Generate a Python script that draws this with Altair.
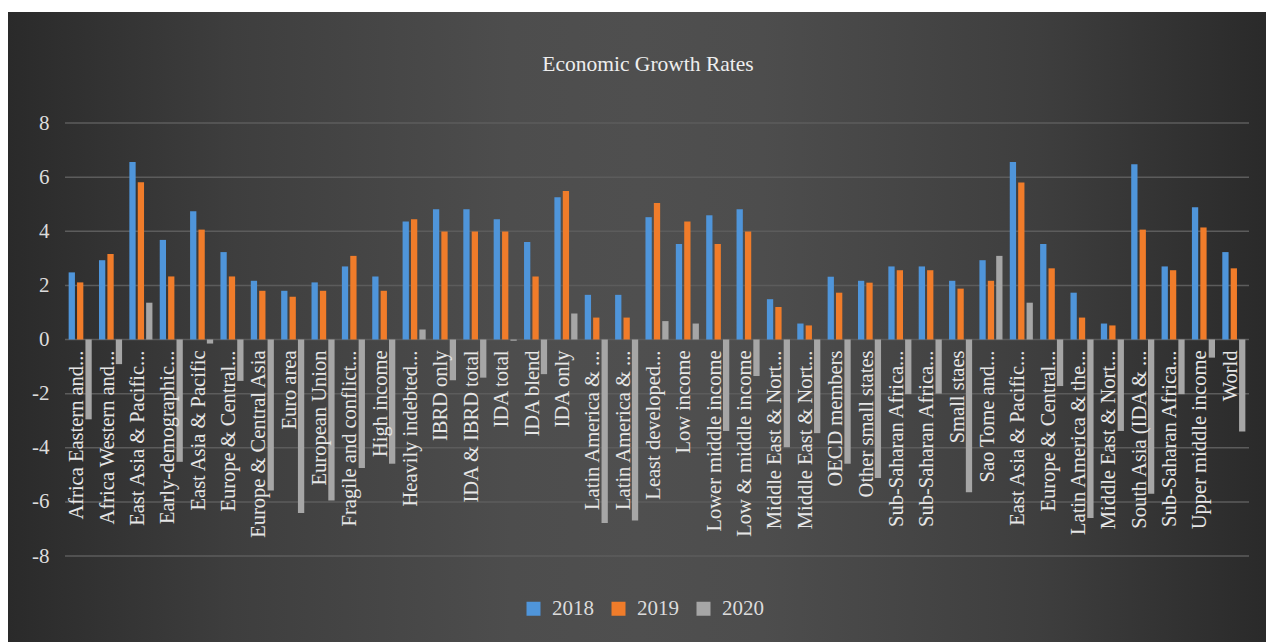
import altair as alt
import pandas as pd

categories = [
    "Africa Eastern and...", "Africa Western and...", "East Asia & Pacific...",
    "Early-demographic...", "East Asia & Pacific", "Europe & Central...",
    "Europe & Central Asia", "Euro area", "European Union",
    "Fragile and conflict...", "High income", "Heavily indebted...",
    "IBRD only", "IDA & IBRD total", "IDA total", "IDA blend", "IDA only",
    "Latin America & ...", "Latin America & ...", "Least developed...",
    "Low income", "Lower middle income", "Low & middle income",
    "Middle East & Nort...", "Middle East & Nort...", "OECD members",
    "Other small states", "Sub-Saharan Africa...", "Sub-Saharan Africa...",
    "Small staes", "Sao Tome and...", "East Asia & Pacific...",
    "Europe & Central...", "Latin America & the...", "Middle East & Nort...",
    "South Asia (IDA & ...", "Sub-Saharan Africa...", "Upper middle income",
    "World",
]
v2018 = [2.48, 2.93, 6.56, 3.68, 4.74, 3.23, 2.17, 1.80, 2.11, 2.70, 2.33, 4.36,
         4.81, 4.81, 4.44, 3.60, 5.26, 1.65, 1.65, 4.52, 3.53, 4.59, 4.81,
         1.49, 0.59, 2.32, 2.17, 2.70, 2.70, 2.17, 2.93, 6.56, 3.53, 1.73,
         0.59, 6.48, 2.70, 4.89, 3.23]
v2019 = [2.11, 3.16, 5.81, 2.33, 4.06, 2.33, 1.80, 1.58, 1.80, 3.09, 1.80, 4.44,
         3.99, 3.99, 3.99, 2.33, 5.49, 0.81, 0.81, 5.04, 4.36, 3.53, 3.99,
         1.20, 0.52, 1.73, 2.10, 2.56, 2.56, 1.88, 2.17, 5.80, 2.63, 0.81,
         0.52, 4.06, 2.56, 4.14, 2.63]
v2020 = [-2.95, -0.91, 1.36, -4.52, -0.15, -1.53, -5.58, -6.41, -5.95, -4.75, -4.59, 0.37,
         -1.51, -1.41, -0.05, -1.28, 0.96, -6.78, -6.69, 0.68, 0.59, -3.38, -1.35,
         -3.98, -3.46, -4.59, -5.12, -2.02, -2.00, -5.64, 3.09, 1.36, -1.72, -6.60,
         -3.38, -5.70, -2.02, -0.67, -3.40]
years = ["2018", "2019", "2020"]
year_colors = ["#4f95da", "#f07c2a", "#a6a6a6"]
grid_values = [-8, -6, -4, -2, 0, 2, 4, 6, 8]
title_text = "Economic Growth Rates"

rows = []
for i, c in enumerate(categories):
    for y, vals in zip(years, (v2018, v2019, v2020)):
        rows.append({"idx": i, "label": c, "year": y, "value": vals[i]})
df = pd.DataFrame(rows)
labels_df = pd.DataFrame({"idx": list(range(len(categories))), "label": categories})
grid_df = pd.DataFrame({"g": grid_values})
title_df = pd.DataFrame({"t": [title_text]})

W, H = 1184, 433
SERIF = "Times New Roman, Liberation Serif, DejaVu Serif, serif"

x_scale = alt.Scale(domain=list(range(len(categories))), paddingInner=0.24, paddingOuter=0.12)
y_scale = alt.Scale(domain=[-8, 8], nice=False, zero=False)
yaxis = alt.Axis(values=grid_values, grid=False, domain=False, ticks=False,
                 labelFont=SERIF, labelFontSize=21, labelColor="#dcdcdc",
                 labelExpr="'' + datum.value",
                 labelPadding=16, title=None, zindex=1)

background = alt.Chart(pd.DataFrame({"a": [0]})).mark_rect(
    color=alt.LinearGradient(
        gradient="linear", x1=0, x2=1, y1=0, y2=0,
        stops=[
            alt.GradientStop(color="#2a2a2a", offset=0),
            alt.GradientStop(color="#3e3e3e", offset=0.18),
            alt.GradientStop(color="#4d4d4d", offset=0.4),
            alt.GradientStop(color="#4f4f4f", offset=0.5),
            alt.GradientStop(color="#4d4d4d", offset=0.6),
            alt.GradientStop(color="#3e3e3e", offset=0.82),
            alt.GradientStop(color="#2a2a2a", offset=1),
        ],
    )
).encode(x=alt.value(-57), x2=alt.value(1201), y=alt.value(-111), y2=alt.value(519))

grid = alt.Chart(grid_df).mark_rule(color="#5c5c5c", strokeWidth=1.5).encode(
    y=alt.Y("g:Q", scale=y_scale, axis=yaxis),
    x=alt.value(0), x2=alt.value(W),
)

bars = alt.Chart(df).mark_bar().encode(
    x=alt.X("idx:O", scale=x_scale, axis=None),
    xOffset=alt.XOffset("year:N", scale=alt.Scale(domain=years, paddingInner=0.25, paddingOuter=0)),
    y=alt.Y("value:Q", scale=y_scale, axis=yaxis),
    color=alt.Color("year:N", scale=alt.Scale(domain=years, range=year_colors),
                    legend=alt.Legend(
                        orient="none", legendX=458, legendY=475, direction="horizontal",
                        title=None, labelFont=SERIF, labelFontSize=21, labelColor="#dcdcdc",
                        symbolType="square", symbolSize=196, symbolStrokeWidth=0,
                        columnPadding=14, labelOffset=8, padding=0, zindex=1)),
)

texts = alt.Chart(labels_df).mark_text(
    angle=270, align="right", baseline="middle", dx=-11, dy=-3,
    font=SERIF, fontSize=20.5, color="#e6e6e6",
).encode(
    x=alt.X("idx:O", scale=x_scale, axis=None),
    y=alt.YDatum(0, type="quantitative", scale=y_scale, axis=yaxis),
    text="label:N",
)

title = alt.Chart(title_df).mark_text(
    align="center", baseline="middle", font=SERIF, fontSize=21.5, color="#eeeeee",
).encode(text="t:N", x=alt.value(583), y=alt.value(-58))

chart = alt.layer(background, grid, bars, texts, title).properties(
    width=W, height=H,
    autosize="none",
    padding={"left": 65, "top": 123, "right": 17, "bottom": 86},
    background="white",
).configure_view(stroke=None)

chart.save("out.html", embed_options={"renderer": "svg", "actions": False})
